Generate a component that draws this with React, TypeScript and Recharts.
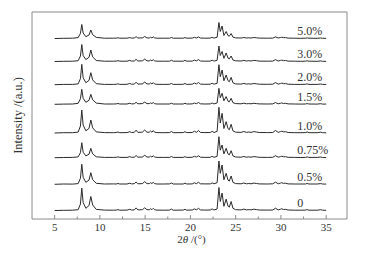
import React from 'react';
import { LineChart, Line, XAxis, YAxis, ReferenceArea, ReferenceDot } from 'recharts';

// 2θ sample positions (degrees)
const twoTheta = [
  5.0, 6.0, 7.0, 7.6, 7.85, 8.0, 8.15, 8.45, 8.8, 9.0, 9.2, 9.6,
  10.5, 11.5, 11.8, 12.0, 12.2,
  13.0, 13.3, 13.5, 13.8, 14.0, 14.2, 14.7, 14.95, 15.2, 15.45, 15.6, 15.75, 15.9, 16.05, 16.3,
  17.0, 17.7, 17.9, 18.1,
  19.2, 19.4, 19.6,
  20.2, 20.45, 20.65, 20.9, 21.1, 21.6,
  22.2, 22.4, 22.6, 22.95,
  23.15, 23.3, 23.5, 23.7, 23.95, 24.15, 24.3, 24.5, 24.7, 25.0,
  25.6, 25.9, 26.2, 26.45, 26.7, 27.0, 27.3, 27.6,
  28.5, 29.1, 29.4, 29.7, 29.95, 30.1, 30.3, 30.5, 30.8,
  31.5, 32.2, 32.7, 32.9, 33.1, 34.0, 34.4, 34.6, 35.0,
];

// series labels (bottom to top)
const seriesNames = ['0', '0.5%', '0.75%', '1.0%', '1.5%', '2.0%', '3.0%', '5.0%'];

// intensities (a.u.) above each trace's own baseline
const int0 = [
  0, 0.2, 0.3, 0.8, 6.5, 22.4, 8, 2.2, 5, 14, 5.6, 1.1,
  0.4, 0.3, 0.4, 0.9, 0.3,
  0.4, 1.2, 0.5, 0.6, 2.6, 0.6, 0.8, 2.7, 0.8, 0.7, 1.8, 0.8, 2.2, 0.8, 0.4,
  0.3, 0.4, 1.4, 0.3,
  0.4, 1.2, 0.3,
  0.5, 1.6, 0.7, 2.2, 0.6, 0.4,
  0.5, 1.6, 0.5, 1.5,
  23, 9, 17.4, 4.2, 11.4, 4.5, 3.4, 9, 2.2, 0.8,
  0.6, 1.4, 0.6, 0.9, 0.6, 1.3, 0.9, 0.5,
  0.4, 0.5, 2.3, 0.6, 1.3, 1.7, 1.0, 1.2, 0.5,
  0.3, 0.3, 0.4, 0.9, 0.3, 0.3, 0.8, 0.3, 0.2,
];
const int05 = [
  0, 0.3, 0.2, 0.7, 6, 20, 7, 2, 4.2, 11.6, 4.6, 1,
  0.3, 0.4, 0.3, 0.8, 0.3,
  0.3, 1.1, 0.4, 0.6, 2.3, 0.5, 0.7, 2.6, 0.7, 0.6, 1.6, 0.7, 2.0, 0.7, 0.3,
  0.3, 0.4, 1.3, 0.3,
  0.3, 1.1, 0.3,
  0.4, 1.5, 0.6, 2.0, 0.5, 0.4,
  0.4, 1.4, 0.5, 1.6,
  23.3, 11, 19.3, 4.5, 11, 4.2, 3.2, 8.3, 2, 0.7,
  0.5, 1.3, 0.5, 0.8, 0.5, 1.2, 0.8, 0.4,
  0.3, 0.5, 2.2, 0.5, 1.2, 1.6, 0.9, 1.1, 0.4,
  0.3, 0.3, 0.3, 0.8, 0.3, 0.3, 0.7, 0.3, 0.2,
];
const int075 = [
  0, 0.2, 0.3, 0.8, 5, 15, 5.5, 1.8, 3.5, 9.4, 3.8, 0.9,
  0.3, 0.3, 0.4, 0.8, 0.3,
  0.3, 1.0, 0.4, 0.5, 2.2, 0.5, 0.7, 2.4, 0.7, 0.6, 1.5, 0.7, 1.9, 0.7, 0.3,
  0.3, 0.3, 1.2, 0.3,
  0.3, 1.0, 0.3,
  0.4, 1.4, 0.6, 1.9, 0.5, 0.3,
  0.4, 1.4, 0.4, 1.3,
  21, 7.5, 12.7, 3.8, 9.4, 3.8, 2.9, 7, 1.8, 0.7,
  0.5, 1.2, 0.5, 0.8, 0.5, 1.1, 0.8, 0.4,
  0.3, 0.4, 2.0, 0.5, 1.1, 1.5, 0.9, 1.0, 0.4,
  0.3, 0.2, 0.3, 0.8, 0.3, 0.3, 0.7, 0.2, 0.2,
];
const int10 = [
  0, 0.3, 0.3, 0.9, 7, 23, 8, 2.2, 4.6, 13, 5.2, 1.1,
  0.4, 0.3, 0.5, 1.0, 0.3,
  0.4, 1.3, 0.5, 0.7, 2.8, 0.6, 0.9, 3.0, 0.8, 0.8, 2.0, 0.8, 2.4, 0.8, 0.4,
  0.3, 0.4, 1.5, 0.3,
  0.4, 1.3, 0.4,
  0.5, 1.8, 0.7, 2.4, 0.6, 0.4,
  0.5, 1.7, 0.5, 1.6,
  25.7, 10, 19.7, 4.5, 11.3, 4.4, 3.3, 8.7, 2.1, 0.8,
  0.6, 1.5, 0.6, 1.0, 0.6, 1.4, 1.0, 0.5,
  0.4, 0.5, 2.5, 0.6, 1.4, 1.8, 1.1, 1.3, 0.5,
  0.3, 0.3, 0.4, 1.0, 0.3, 0.3, 0.9, 0.3, 0.2,
];
const int15 = [
  0, 0.2, 0.3, 1.0, 5.5, 15, 6, 2, 4, 10, 4.5, 1.2,
  0.3, 0.3, 0.4, 0.8, 0.3,
  0.3, 1.0, 0.4, 0.5, 2.0, 0.5, 0.7, 2.2, 0.7, 0.6, 1.4, 0.7, 1.8, 0.6, 0.3,
  0.3, 0.3, 1.1, 0.3,
  0.3, 1.0, 0.3,
  0.4, 1.3, 0.6, 1.8, 0.5, 0.3,
  0.4, 1.3, 0.4, 1.3,
  16, 6.5, 11, 3.5, 7.7, 3.2, 2.5, 6, 1.6, 0.7,
  0.5, 1.1, 0.5, 0.7, 0.5, 1.0, 0.7, 0.4,
  0.3, 0.4, 1.8, 0.5, 1.0, 1.4, 0.8, 1.0, 0.4,
  0.3, 0.2, 0.3, 0.7, 0.3, 0.2, 0.6, 0.2, 0.2,
];
const int20 = [
  0, 0.3, 0.3, 0.8, 6, 20.3, 7, 2, 4.3, 12, 4.8, 1,
  0.3, 0.3, 0.4, 0.9, 0.3,
  0.4, 1.2, 0.5, 0.6, 2.5, 0.6, 0.8, 2.6, 0.8, 0.7, 1.8, 0.8, 2.1, 0.7, 0.4,
  0.3, 0.4, 1.3, 0.3,
  0.4, 1.2, 0.3,
  0.5, 1.6, 0.7, 2.2, 0.6, 0.4,
  0.5, 1.5, 0.5, 1.4,
  20, 8, 14.7, 4, 9.7, 4, 3, 7.3, 1.9, 0.8,
  0.6, 1.3, 0.6, 0.9, 0.6, 1.2, 0.9, 0.5,
  0.4, 0.5, 2.1, 0.6, 1.2, 1.6, 1.0, 1.1, 0.5,
  0.3, 0.3, 0.4, 0.8, 0.3, 0.3, 0.7, 0.3, 0.2,
];
const int30 = [
  0, 0.2, 0.3, 0.8, 5.5, 17, 6, 1.9, 4.2, 11.5, 4.6, 1,
  0.3, 0.3, 0.4, 0.8, 0.3,
  0.3, 1.1, 0.4, 0.5, 2.2, 0.5, 0.7, 2.4, 0.7, 0.6, 1.5, 0.7, 1.8, 0.6, 0.3,
  0.3, 0.3, 1.2, 0.3,
  0.3, 1.1, 0.3,
  0.4, 1.4, 0.6, 1.9, 0.5, 0.3,
  0.4, 1.3, 0.4, 1.2,
  15.5, 6, 10, 3.2, 8.5, 3.4, 2.6, 5.5, 1.5, 0.7,
  0.5, 1.1, 0.5, 0.8, 0.5, 1.1, 0.8, 0.4,
  0.3, 0.4, 1.9, 0.5, 1.1, 1.4, 0.8, 1.0, 0.4,
  0.3, 0.2, 0.3, 0.7, 0.3, 0.2, 0.6, 0.2, 0.2,
];
const int50 = [
  0, 0.2, 0.3, 0.9, 5, 14, 5.5, 1.8, 3.5, 8.5, 3.8, 1.1,
  0.3, 0.3, 0.4, 0.7, 0.3,
  0.3, 0.9, 0.4, 0.5, 1.8, 0.5, 0.6, 2.0, 0.6, 0.5, 1.3, 0.6, 1.6, 0.6, 0.3,
  0.3, 0.3, 1.0, 0.3,
  0.3, 0.9, 0.3,
  0.4, 1.2, 0.5, 1.6, 0.5, 0.3,
  0.4, 1.2, 0.4, 1.2,
  16, 7, 12.5, 3, 7, 3, 2.3, 5, 1.4, 0.6,
  0.5, 1.0, 0.5, 0.7, 0.5, 1.0, 0.7, 0.4,
  0.3, 0.4, 1.6, 0.5, 1.0, 1.3, 0.8, 0.9, 0.4,
  0.3, 0.2, 0.3, 0.6, 0.3, 0.2, 0.5, 0.2, 0.2,
];

const intensities = [int0, int05, int075, int10, int15, int20, int30, int50];

// vertical stacking offsets of each trace (a.u.)
const offsets = [8.5, 34.7, 61.3, 86, 114.7, 134.3, 157.5, 180.5];

const xTicks = [5, 7.5, 10, 12.5, 15, 17.5, 20, 22.5, 25, 27.5, 30, 32.5, 35];
const labelX = 31.8;

const chartData = twoTheta.map((x, i) => {
  const row: Record<string, number> = { x };
  intensities.forEach((arr, k) => {
    row['s' + k] = offsets[k] + arr[i];
  });
  return row;
});

const FONT = '"Liberation Serif", "Times New Roman", serif';
const TEXT = '#333';
const FRAME = '#8a8a8a';

const XTick = (props: any) => {
  const { x, y, payload } = props;
  const v = payload.value;
  const major = v % 5 === 0;
  return (
    <g>
      <line x1={x} x2={x} y1={y} y2={y - (major ? 4 : 2.5)} stroke={FRAME} strokeWidth={1} />
      {major && (
        <text x={x} y={y + 11.5} textAnchor="middle" fontFamily={FONT} fontSize={11} fill={TEXT}>
          {v}
        </text>
      )}
    </g>
  );
};

export default function App() {
  return (
    <div style={{ position: 'absolute', left: 0, top: 0, width: 366, height: 257, background: '#fff' }}>
      <LineChart width={366} height={257} data={chartData} margin={{ top: 12, right: 19, bottom: 0, left: 0 }}>
        <XAxis
          dataKey="x"
          type="number"
          domain={[2.5, 37.3]}
          ticks={xTicks}
          interval={0}
          tick={<XTick />}
          tickLine={false}
          tickSize={0}
          tickMargin={0}
          axisLine={false}
          height={38}
          label={{
            content: (p: any) => {
              const vb = p.viewBox;
              return (
                <text x={vb.x + vb.width / 2 + 2} y={vb.y + 23.5} textAnchor="middle" fontFamily={FONT} fontSize={11} fill={TEXT}>
                  <tspan>2</tspan>
                  <tspan fontStyle="italic">θ</tspan>
                  <tspan> /(°)</tspan>
                </text>
              );
            },
          }}
        />
        <YAxis
          type="number"
          domain={[0, 207]}
          width={32}
          tick={false}
          tickLine={false}
          axisLine={false}
          label={{
            content: (p: any) => {
              const vb = p.viewBox;
              const cx = 18;
              const cy = vb.y + vb.height / 2;
              return (
                <text x={cx} y={cy} transform={`rotate(-90, ${cx}, ${cy})`} textAnchor="middle" dominantBaseline="central" fontFamily={FONT} fontSize={12.5} fill={TEXT}>
                  Intensity /(a.u.)
                </text>
              );
            },
          }}
        />
        <ReferenceArea x1={2.5} x2={37.3} y1={0} y2={207} fill="none" stroke={FRAME} strokeWidth={1} ifOverflow="visible" />
        {intensities.map((_, k) => (
          <Line
            key={k}
            type="linear"
            dataKey={'s' + k}
            stroke="#2a2a2a"
            strokeWidth={1}
            dot={false}
            activeDot={false}
            isAnimationActive={false}
          />
        ))}
        {seriesNames.map((name, k) => (
          <ReferenceDot
            key={name}
            x={labelX}
            y={offsets[k] + 7.5}
            r={0}
            ifOverflow="visible"
            shape={(p: any) => (
              <text x={p.cx} y={p.cy} dominantBaseline="central" textAnchor="start" fontFamily={FONT} fontSize={12} fill={TEXT}>
                {name}
              </text>
            )}
          />
        ))}
      </LineChart>
    </div>
  );
}
